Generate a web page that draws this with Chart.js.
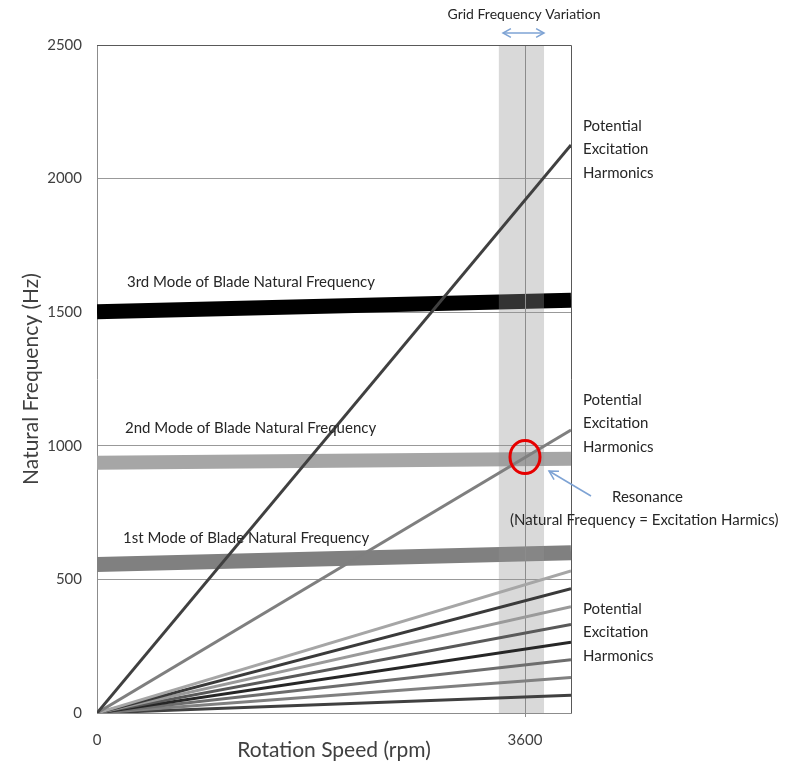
<!DOCTYPE html>
<html><head><meta charset="utf-8">
<script src="https://cdn.jsdelivr.net/npm/chart.js@4"></script>
<style>html,body{margin:0;padding:0;background:#fff;}#wrap{width:791px;height:763px;position:relative;}</style>
</head><body><div id="wrap"><canvas id="c" width="791" height="763"></canvas></div>
<script>
// ---- data ----
const speedMax = 3987;                       // rpm at right edge of plot
const freqTicks = [0, 500, 1000, 1500, 2000, 2500];
const speedTicks = [0, 3600];
const harmonicNames = ['32x', '16x', '8x', '7x', '6x', '5x', '4x', '3x', '2x', '1x'];
const harmonicEnd = [2126, 1059, 532, 465, 398, 331, 265, 199, 133, 66]; // Hz at speedMax
const harmonicColors = ['#404040', '#7f7f7f', '#a6a6a6', '#3a3a3a', '#9a9a9a', '#595959', '#262626', '#6d6d6d', '#808080', '#404040'];
const modeNames = ['3rd Mode of Blade Natural Frequency', '2nd Mode of Blade Natural Frequency', '1st Mode of Blade Natural Frequency'];
const modeStart = [1502, 937, 556];          // Hz at 0 rpm
const modeEnd = [1545, 952, 600];            // Hz at speedMax
const modeColors = ['#000000', '#a6a6a6', '#808080'];
const gridBand = [3380, 3760];
const gridSpeed = 3600;
const resonancePoint = [3600, 958];

const FONT = 'Lato, "Open Sans", sans-serif';
const TXT = '#262626';

const datasets = [];
harmonicNames.forEach((n, i) => datasets.push({
  label: n, data: [{x: 0, y: 0}, {x: speedMax, y: harmonicEnd[i]}],
  borderColor: harmonicColors[i], borderWidth: 3, pointRadius: 0, showLine: true, fill: false
}));
modeNames.forEach((n, i) => datasets.push({
  label: n, data: [{x: 0, y: modeStart[i]}, {x: speedMax, y: modeEnd[i]}],
  borderColor: modeColors[i], borderWidth: i === 1 ? 14 : 15, borderCapStyle: 'butt', pointRadius: 0, showLine: true, fill: false
}));

function arrowHead(ctx, x, y, ang, len) {
  ctx.beginPath();
  ctx.moveTo(x + len * Math.cos(ang + 0.5), y + len * Math.sin(ang + 0.5));
  ctx.lineTo(x, y);
  ctx.lineTo(x + len * Math.cos(ang - 0.5), y + len * Math.sin(ang - 0.5));
  ctx.stroke();
}

const overlay = {
  id: 'overlay',
  beforeDatasetDraw(chart, args) {
    if (args.index !== harmonicNames.length - 1) return;
    const {ctx, chartArea: a, scales: {x}} = chart;
    ctx.save();
    const x0 = x.getPixelForValue(gridBand[0]), x1 = x.getPixelForValue(gridBand[1]);
    ctx.fillStyle = 'rgba(146,146,146,0.35)';
    ctx.fillRect(x0, a.top, x1 - x0, a.bottom - a.top);
    const xv = Math.round(x.getPixelForValue(gridSpeed)) + 0.5;
    ctx.strokeStyle = '#8c8c8c'; ctx.lineWidth = 1;
    ctx.beginPath(); ctx.moveTo(xv, a.top); ctx.lineTo(xv, a.bottom + 4); ctx.stroke();
    ctx.restore();
  },
  afterDraw(chart) {
    const {ctx, chartArea: a, scales: {x, y}} = chart;
    ctx.save();
    // top & right border
    ctx.strokeStyle = '#595959'; ctx.lineWidth = 1;
    ctx.beginPath();
    ctx.moveTo(a.left, a.top + 0.5); ctx.lineTo(a.right + 0.5, a.top + 0.5); ctx.lineTo(a.right + 0.5, a.bottom);
    ctx.stroke();
    // texts
    ctx.fillStyle = TXT; ctx.textBaseline = 'middle'; ctx.textAlign = 'left';
    ctx.font = '15px ' + FONT;
    const modeLabelY = [282, 428, 538];
    const modeLabelX = [127, 125, 123];
    modeNames.forEach((n, i) => ctx.fillText(n, modeLabelX[i], modeLabelY[i]));
    const pot = ['Potential', 'Excitation', 'Harmonics'];
    [126, 400, 609].forEach(y0 => pot.forEach((t, k) => ctx.fillText(t, a.right + 12, y0 + k * 23.5)));
    ctx.fillText('Resonance', 612, 497);
    ctx.fillText('(Natural Frequency = Excitation Harmics)', 510, 520);
    ctx.font = '14px ' + FONT;
    ctx.textAlign = 'center';
    ctx.fillText('Grid Frequency Variation', 524, 14);
    // arrows
    ctx.strokeStyle = '#7ea3d4'; ctx.lineWidth = 1.5;
    ctx.beginPath(); ctx.moveTo(503, 33); ctx.lineTo(544, 33); ctx.stroke();
    arrowHead(ctx, 503, 33, 0, 9);
    arrowHead(ctx, 544, 33, Math.PI, 9);
    ctx.beginPath(); ctx.moveTo(549, 471); ctx.lineTo(591, 496); ctx.stroke();
    arrowHead(ctx, 549, 471, Math.atan2(25, 42), 10);
    // resonance circle
    const cx = x.getPixelForValue(resonancePoint[0]), cy = y.getPixelForValue(resonancePoint[1]);
    ctx.strokeStyle = '#e60000'; ctx.lineWidth = 3;
    ctx.beginPath(); ctx.ellipse(cx, cy, 15, 16.5, 0, 0, Math.PI * 2); ctx.stroke();
    ctx.restore();
  }
};

new Chart(document.getElementById('c'), {
  type: 'scatter',
  data: {datasets},
  options: {
    responsive: false, animation: false, events: [],
    layout: {padding: {top: 45, right: 220, left: 0, bottom: 0}},
    plugins: {legend: {display: false}, tooltip: {enabled: false}},
    scales: {
      x: {
        type: 'linear', min: 0, max: speedMax,
        afterBuildTicks: s => { s.ticks = speedTicks.map(v => ({value: v})); },
        afterFit: s => { s.height = 50; },
        grid: {display: false},
        border: {display: true, color: '#8c8c8c', width: 1},
        ticks: {color: '#404040', font: {family: FONT, size: 15}, padding: 10, maxRotation: 0, callback: v => String(v)},
        title: {display: true, text: 'Rotation Speed (rpm)', color: '#404040', font: {family: FONT, size: 21}, padding: {top: 0, bottom: 0}}
      },
      y: {
        type: 'linear', min: 0, max: 2500,
        afterBuildTicks: s => { s.ticks = freqTicks.map(v => ({value: v})); },
        afterFit: s => { s.width = 97; },
        grid: {color: '#999999', lineWidth: 1, drawTicks: false},
        border: {display: true, color: '#8c8c8c', width: 1},
        ticks: {color: '#404040', font: {family: FONT, size: 15}, padding: 15, callback: v => String(v)},
        title: {display: true, text: 'Natural Frequency (Hz)', color: '#404040', font: {family: FONT, size: 21}, padding: {top: 19, bottom: 0}}
      }
    }
  },
  plugins: [overlay]
});
</script></body></html>
